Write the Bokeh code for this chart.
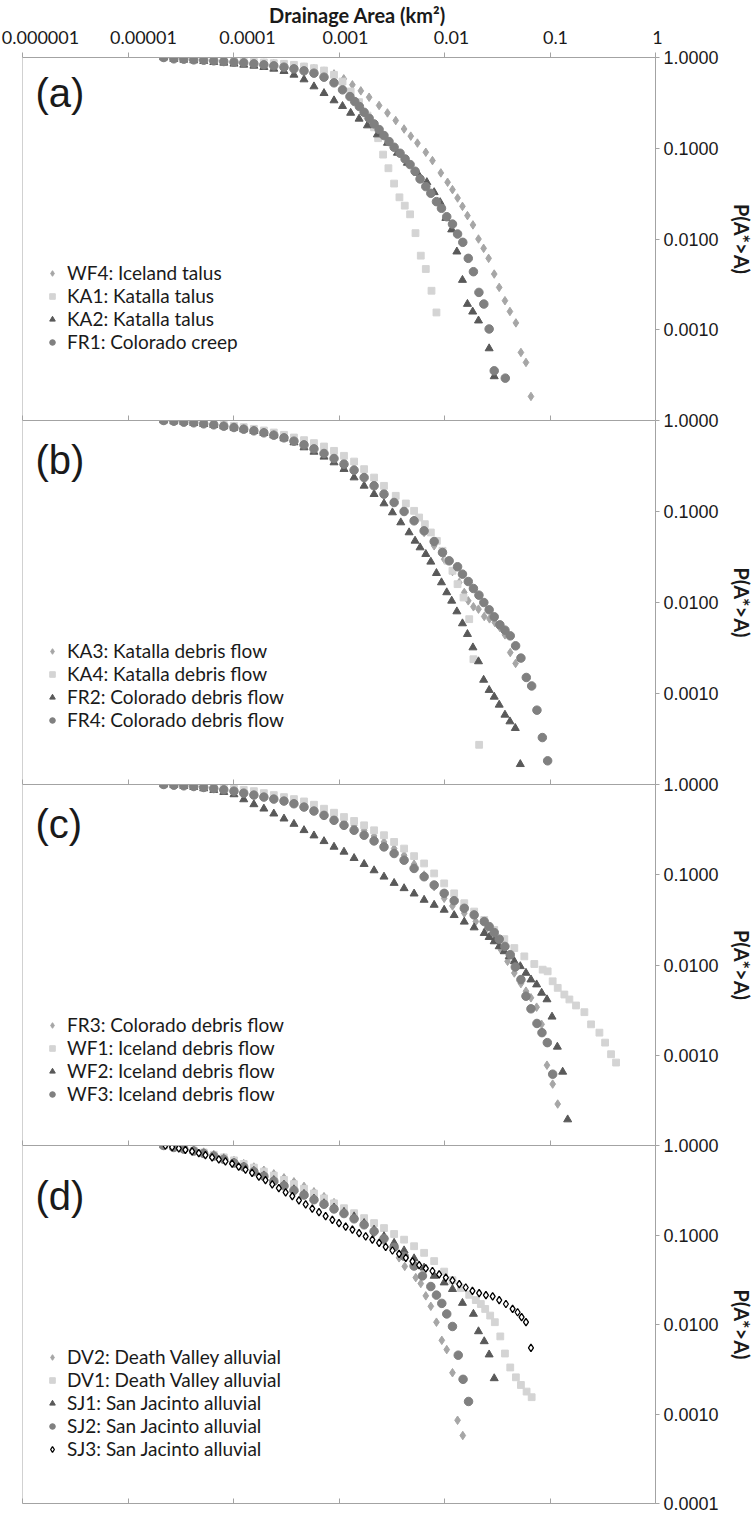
import math
from bokeh.plotting import figure
from bokeh.models import (Range1d, LogAxis, FixedTicker, PrintfTickFormatter, Label,
                          Legend, LegendItem, Span)
from bokeh.layouts import column
from bokeh.embed import file_html
from bokeh.resources import INLINE
from bokeh.core.properties import value

# ---------------- axis text ----------------
X_TICKS = [1e-6, 1e-5, 1e-4, 1e-3, 1e-2, 1e-1, 1.0]
X_TICK_LABELS = ["0.000001", "0.00001", "0.0001", "0.001", "0.01", "0.1", "1"]
Y_TICKS_UPPER = [1e-3, 1e-2, 1e-1, 1.0]
Y_TICKS_LOWER = [1e-4, 1e-3, 1e-2, 1e-1, 1.0]
X_TITLE = "Drainage Area (km\u00b2)"
Y_TITLE = "P(A*>A)"
PANEL_TAGS = ["(a)", "(b)", "(c)", "(d)"]

# ---------------- panel (a) ----------------
WF4_A = [2.18e-5, 2.72e-5, 3.38e-5, 4.20e-5, 5.22e-5, 6.50e-5, 8.09e-5, 1.01e-4, 1.25e-4, 1.56e-4,
         1.94e-4, 2.41e-4, 3.01e-4, 3.74e-4, 4.66e-4, 5.79e-4, 7.21e-4, 8.97e-4,
         1.11e-3, 1.34e-3, 1.61e-3, 1.93e-3, 2.40e-3, 2.88e-3, 3.45e-3, 4.14e-3, 4.79e-3, 5.54e-3,
         6.65e-3, 7.69e-3, 9.23e-3, 1.07e-2, 1.19e-2, 1.33e-2, 1.48e-2, 1.65e-2, 1.86e-2, 2.10e-2,
         2.35e-2, 2.62e-2, 2.96e-2, 3.30e-2, 3.74e-2, 4.17e-2, 4.75e-2, 5.30e-2, 5.92e-2, 6.60e-2]
WF4_P = [1.0, 0.983, 0.975, 0.967, 0.950, 0.942, 0.927, 0.911, 0.896, 0.881,
         0.866, 0.852, 0.830, 0.809, 0.782, 0.750, 0.707, 0.660,
         0.582, 0.500, 0.429, 0.365, 0.296, 0.245, 0.202, 0.163, 0.136, 0.114,
         0.0903, 0.0731, 0.0535, 0.0422, 0.0350, 0.0283, 0.0229, 0.0181, 0.0143, 0.0100,
         0.00789, 0.00612, 0.00411, 0.00293, 0.00209, 0.00159, 0.00119, 0.000562, 0.000436, 0.000184]

KA1_A = [2.18e-5, 2.72e-5, 3.38e-5, 4.20e-5, 5.22e-5, 6.50e-5, 8.09e-5, 1.01e-4, 1.25e-4, 1.56e-4,
         1.94e-4, 2.41e-4, 3.01e-4, 3.74e-4, 4.66e-4, 5.79e-4, 7.21e-4, 8.97e-4,
         1.08e-3, 1.29e-3, 1.55e-3, 1.86e-3, 2.15e-3, 2.35e-3, 2.62e-3, 2.94e-3, 3.33e-3, 3.74e-3,
         4.20e-3, 4.72e-3, 5.31e-3, 5.96e-3, 6.65e-3, 7.53e-3, 8.39e-3]
KA1_P = [1.0, 0.992, 0.983, 0.975, 0.967, 0.950, 0.942, 0.927, 0.911, 0.896,
         0.881, 0.866, 0.852, 0.830, 0.796, 0.763, 0.719, 0.644,
         0.543, 0.422, 0.322, 0.229, 0.170, 0.129, 0.0851, 0.0602, 0.0408, 0.0288,
         0.0233, 0.0187, 0.0116, 0.00655, 0.00467, 0.00269, 0.00155]

KA2_A = [2.18e-5, 2.72e-5, 3.38e-5, 4.20e-5, 5.22e-5, 6.50e-5, 8.09e-5, 1.01e-4, 1.25e-4, 1.56e-4,
         1.94e-4, 2.41e-4, 3.01e-4, 3.74e-4, 4.66e-4, 5.79e-4, 7.21e-4, 8.97e-4,
         1.08e-3, 1.29e-3, 1.55e-3, 1.86e-3, 2.31e-3, 2.88e-3, 3.58e-3, 4.45e-3, 5.54e-3, 6.80e-3,
         7.98e-3, 9.09e-3, 1.03e-2, 1.17e-2, 1.31e-2, 1.48e-2, 1.65e-2, 1.85e-2, 2.10e-2, 2.65e-2, 2.96e-2]
KA2_P = [1.0, 0.959, 0.942, 0.927, 0.911, 0.888, 0.873, 0.852, 0.830, 0.809,
         0.782, 0.750, 0.707, 0.644, 0.572, 0.479, 0.404, 0.336,
         0.291, 0.245, 0.211, 0.178, 0.1416, 0.1145, 0.0889, 0.0689, 0.0535, 0.0422,
         0.0327, 0.0254, 0.0170, 0.0127, 0.00725, 0.00353, 0.00192, 0.00158, 0.00126, 0.000622, 0.000306]

FR1_A = [2.18e-5, 2.72e-5, 3.38e-5, 4.20e-5, 5.22e-5, 6.50e-5, 8.09e-5, 1.01e-4, 1.25e-4, 1.56e-4,
         1.94e-4, 2.41e-4, 3.01e-4, 3.74e-4, 4.66e-4, 5.79e-4, 7.21e-4, 8.97e-4,
         1.08e-3, 1.27e-3, 1.41e-3, 1.56e-3, 1.73e-3, 1.93e-3, 2.15e-3, 2.40e-3, 2.67e-3, 2.98e-3,
         3.33e-3, 3.79e-3, 4.23e-3, 4.72e-3, 5.26e-3, 5.87e-3, 6.65e-3, 7.42e-3, 8.39e-3, 9.36e-3,
         1.05e-2, 1.19e-2, 1.33e-2, 1.49e-2, 1.68e-2, 1.88e-2, 2.12e-2, 2.36e-2, 2.65e-2, 2.96e-2, 3.77e-2]
FR1_P = [1.0, 0.967, 0.959, 0.942, 0.934, 0.919, 0.903, 0.888, 0.873, 0.852,
         0.830, 0.809, 0.782, 0.750, 0.713, 0.672, 0.607, 0.526,
         0.440, 0.371, 0.327, 0.288, 0.249, 0.214, 0.1855, 0.1607, 0.138, 0.1185,
         0.1026, 0.0881, 0.0762, 0.0661, 0.0558, 0.0459, 0.0378, 0.0319, 0.0258, 0.0218,
         0.0176, 0.0146, 0.01135, 0.00919, 0.00612, 0.00436, 0.00258, 0.00192, 0.00102, 0.000353, 0.000293]

# ---------------- panel (b) ----------------
KA3_A = [2.18e-5, 2.72e-5, 3.38e-5, 4.20e-5, 5.22e-5, 6.50e-5, 8.09e-5, 1.01e-4, 1.25e-4, 1.56e-4,
         1.94e-4, 2.41e-4, 3.01e-4, 3.74e-4, 4.66e-4, 5.79e-4, 7.21e-4, 8.97e-4, 1.115e-3, 1.39e-3,
         1.73e-3, 2.15e-3, 2.67e-3,
         3.33e-3, 4.14e-3, 5.15e-3, 6.41e-3, 7.98e-3, 9.93e-3, 1.19e-2, 1.378e-2, 1.54e-2, 1.68e-2,
         1.88e-2, 2.10e-2, 2.38e-2, 2.67e-2, 3.00e-2, 3.35e-2, 3.74e-2, 4.20e-2, 4.72e-2]
KA3_P = [1.0, 0.983, 0.967, 0.951, 0.927, 0.904, 0.881, 0.852, 0.824, 0.790,
         0.751, 0.708, 0.661, 0.613, 0.564, 0.514, 0.464, 0.409, 0.354, 0.2995,
         0.2466, 0.2031, 0.1659,
         0.1332, 0.1061, 0.0803, 0.0588, 0.0420, 0.0299, 0.0219, 0.0166, 0.0129, 0.01043,
         0.00897, 0.00845, 0.00702, 0.00661, 0.00603, 0.00531, 0.00441, 0.00282, 0.00214]

KA4_A = [2.18e-5, 2.72e-5, 3.38e-5, 4.20e-5, 5.22e-5, 6.50e-5, 8.09e-5, 1.01e-4, 1.25e-4, 1.56e-4,
         1.94e-4, 2.41e-4, 3.01e-4, 3.74e-4, 4.66e-4, 5.79e-4, 7.21e-4, 8.97e-4, 1.115e-3, 1.39e-3,
         1.73e-3, 2.15e-3, 2.67e-3,
         3.45e-3, 4.30e-3, 5.15e-3, 5.75e-3, 6.51e-3, 7.42e-3, 8.46e-3, 9.57e-3, 1.07e-2, 1.19e-2,
         1.33e-2, 1.515e-2, 1.715e-2, 1.88e-2, 2.13e-2]
KA4_P = [1.0, 0.992, 0.975, 0.959, 0.943, 0.919, 0.896, 0.874, 0.845, 0.810,
         0.777, 0.738, 0.696, 0.650, 0.608, 0.564, 0.518, 0.464, 0.409, 0.354,
         0.292, 0.236, 0.1914,
         0.1487, 0.1225, 0.1017, 0.0859, 0.0726, 0.0588, 0.0476, 0.0370, 0.0287, 0.0223,
         0.0159, 0.01135, 0.00656, 0.00238, 0.000273]

FR2_A = [2.18e-5, 2.72e-5, 3.38e-5, 4.20e-5, 5.22e-5, 6.50e-5, 8.09e-5, 1.01e-4, 1.25e-4, 1.56e-4,
         1.94e-4, 2.41e-4, 3.01e-4, 3.74e-4, 4.66e-4, 5.79e-4, 7.21e-4, 8.97e-4, 1.115e-3, 1.39e-3,
         1.73e-3, 2.15e-3, 2.67e-3,
         3.21e-3, 3.85e-3, 4.62e-3, 5.26e-3, 5.87e-3, 6.65e-3, 7.42e-3, 8.39e-3, 9.36e-3, 1.05e-2,
         1.17e-2, 1.31e-2, 1.48e-2, 1.65e-2, 1.86e-2, 2.10e-2, 2.35e-2, 2.65e-2, 2.96e-2, 3.30e-2,
         3.74e-2, 4.17e-2, 4.69e-2, 5.23e-2]
FR2_P = [1.0, 0.975, 0.959, 0.935, 0.911, 0.889, 0.859, 0.831, 0.796, 0.764,
         0.726, 0.684, 0.634, 0.573, 0.505, 0.452, 0.399, 0.3455, 0.292, 0.236,
         0.1914, 0.155, 0.1224,
         0.0975, 0.0757, 0.0588, 0.0476, 0.0402, 0.0340, 0.0280, 0.0210, 0.0166, 0.0129,
         0.01043, 0.00796, 0.00588, 0.00449, 0.00320, 0.00225, 0.00141, 0.00109, 0.000919, 0.000751,
         0.000583, 0.000492, 0.000416, 0.000167]

FR4_A = [2.18e-5, 2.72e-5, 3.38e-5, 4.20e-5, 5.22e-5, 6.50e-5, 8.09e-5, 1.01e-4, 1.25e-4, 1.56e-4,
         1.94e-4, 2.41e-4, 3.01e-4, 3.74e-4, 4.66e-4, 5.79e-4, 7.21e-4, 8.97e-4, 1.115e-3, 1.39e-3,
         1.73e-3, 2.15e-3, 2.67e-3,
         3.33e-3, 4.14e-3, 5.15e-3, 6.41e-3, 7.98e-3, 9.57e-3, 1.107e-2, 1.33e-2, 1.48e-2, 1.68e-2,
         1.88e-2, 2.12e-2, 2.36e-2, 2.65e-2, 2.96e-2, 3.35e-2, 3.74e-2, 4.20e-2, 4.72e-2, 5.30e-2,
         5.96e-2, 6.70e-2, 7.52e-2, 8.46e-2, 9.50e-2]
FR4_P = [1.0, 0.983, 0.959, 0.943, 0.919, 0.896, 0.866, 0.838, 0.803, 0.770,
         0.732, 0.690, 0.645, 0.593, 0.540, 0.488, 0.434, 0.382, 0.331, 0.2845,
         0.236, 0.1914, 0.155,
         0.1256, 0.100, 0.0790, 0.0613, 0.0468, 0.0354, 0.0287, 0.0247, 0.0205, 0.0170,
         0.01425, 0.01204, 0.0100, 0.00831, 0.00696, 0.00568, 0.00497, 0.00430, 0.00334, 0.00245,
         0.00150, 0.00121, 0.000656, 0.000328, 0.000182]

# ---------------- panel (c) ----------------
FR3_A = [2.18e-5, 2.72e-5, 3.38e-5, 4.20e-5, 5.22e-5, 6.50e-5, 8.09e-5, 1.01e-4, 1.25e-4, 1.56e-4,
         1.94e-4, 2.41e-4, 3.01e-4, 3.74e-4, 4.66e-4, 5.79e-4, 7.21e-4, 8.97e-4, 1.115e-3, 1.39e-3,
         1.73e-3, 2.15e-3, 2.67e-3, 3.33e-3, 4.14e-3, 5.15e-3, 6.41e-3, 7.98e-3, 9.93e-3,
         1.19e-2, 1.54e-2, 1.98e-2, 2.47e-2, 2.96e-2, 3.43e-2, 3.96e-2, 4.59e-2, 5.30e-2, 5.92e-2,
         6.60e-2, 7.47e-2, 8.33e-2, 9.36e-2, 0.106, 0.1183]
FR3_P = [1.0, 0.9916, 0.975, 0.959, 0.935, 0.911, 0.888, 0.859, 0.830, 0.796,
         0.763, 0.725, 0.689, 0.644, 0.602, 0.548, 0.495, 0.444, 0.394, 0.350,
         0.311, 0.269, 0.231, 0.195, 0.1648, 0.131, 0.0992, 0.0737, 0.0548,
         0.0451, 0.0375, 0.0303, 0.0245, 0.0190, 0.01476, 0.01098, 0.00816, 0.00622, 0.00513,
         0.00433, 0.00341, 0.0022, 0.000776, 0.000479, 0.000288]

WF1_A = [2.18e-5, 2.72e-5, 3.38e-5, 4.20e-5, 5.22e-5, 6.50e-5, 8.09e-5, 1.01e-4, 1.25e-4, 1.56e-4,
         1.94e-4, 2.41e-4, 3.01e-4, 3.74e-4, 4.66e-4, 5.79e-4, 7.21e-4, 8.97e-4, 1.115e-3, 1.39e-3,
         1.73e-3, 2.15e-3, 2.67e-3, 3.33e-3, 4.14e-3, 5.15e-3, 6.41e-3, 7.98e-3, 9.93e-3, 1.235e-2,
         1.54e-2, 1.91e-2, 2.38e-2, 2.96e-2, 3.69e-2, 4.59e-2, 5.71e-2, 7.10e-2,
         8.52e-2, 9.50e-2, 0.106, 0.1183, 0.1368, 0.1527, 0.1765, 0.2118, 0.245, 0.294, 0.333, 0.379, 0.423]
WF1_P = [1.0, 0.995, 0.9916, 0.975, 0.959, 0.943, 0.919, 0.896, 0.873, 0.844,
         0.802, 0.763, 0.725, 0.689, 0.649, 0.597, 0.539, 0.487, 0.436, 0.394,
         0.353, 0.311, 0.274, 0.231, 0.195, 0.1607, 0.1334, 0.1034, 0.0802, 0.0622,
         0.0483, 0.0391, 0.0316, 0.0245, 0.01935, 0.0154, 0.01246, 0.01026,
         0.00888, 0.00851, 0.0066, 0.00558, 0.00471, 0.00415, 0.00356, 0.00300, 0.0022, 0.00178, 0.00138, 0.001026, 0.00083]

WF2_A = [2.18e-5, 2.72e-5, 3.38e-5, 4.20e-5, 5.22e-5, 6.50e-5, 8.09e-5,
         1.01e-4, 1.25e-4, 1.56e-4, 1.94e-4, 2.41e-4, 3.01e-4, 3.74e-4, 4.66e-4, 5.79e-4, 7.21e-4,
         8.97e-4, 1.115e-3, 1.39e-3, 1.73e-3, 2.15e-3, 2.67e-3, 3.33e-3, 4.14e-3, 5.15e-3, 6.41e-3,
         7.98e-3, 9.93e-3, 1.235e-2, 1.54e-2, 1.91e-2, 2.38e-2,
         2.65e-2, 2.96e-2, 3.30e-2, 3.69e-2, 4.11e-2, 4.59e-2, 5.23e-2, 5.92e-2, 6.60e-2, 7.47e-2,
         8.33e-2, 9.36e-2, 0.1045, 0.1174, 0.1319, 0.1471]
WF2_P = [1.0, 0.983, 0.959, 0.935, 0.903, 0.866, 0.823,
         0.776, 0.683, 0.602, 0.539, 0.475, 0.418, 0.365, 0.311, 0.2716, 0.235,
         0.2036, 0.1794, 0.1527, 0.1311, 0.1116, 0.0950, 0.0809, 0.0707, 0.0617, 0.0526,
         0.0463, 0.0408, 0.0356, 0.0301, 0.0260, 0.02254,
         0.02036, 0.01824, 0.01607, 0.01415, 0.01246, 0.01098, 0.00967, 0.00816, 0.00689, 0.00607,
         0.00491, 0.00415, 0.00267, 0.00124, 0.000655, 0.000194]

WF3_A = [2.18e-5, 2.72e-5, 3.38e-5, 4.20e-5, 5.22e-5, 6.50e-5, 8.09e-5, 1.01e-4, 1.25e-4, 1.56e-4,
         1.94e-4, 2.41e-4, 3.01e-4, 3.74e-4, 4.66e-4, 5.79e-4, 7.21e-4, 8.97e-4, 1.115e-3, 1.39e-3,
         1.73e-3, 2.15e-3, 2.67e-3, 3.33e-3, 4.14e-3, 5.15e-3, 6.41e-3, 7.98e-3, 9.93e-3, 1.235e-2,
         1.54e-2, 1.91e-2, 2.38e-2,
         2.65e-2, 2.96e-2, 3.30e-2, 3.74e-2, 4.20e-2, 4.69e-2, 5.30e-2, 5.92e-2, 6.60e-2, 7.52e-2,
         8.39e-2, 9.43e-2, 0.106]
WF3_P = [1.0, 0.983, 0.967, 0.950, 0.927, 0.903, 0.873, 0.844, 0.802, 0.763,
         0.725, 0.689, 0.655, 0.612, 0.562, 0.508, 0.455, 0.401, 0.353, 0.311,
         0.274, 0.237, 0.2036, 0.172, 0.145, 0.1175, 0.0950, 0.0769, 0.0622, 0.0516,
         0.0425, 0.0359, 0.0303,
         0.0267, 0.0229, 0.01935, 0.01607, 0.0130, 0.0095, 0.00689, 0.00451, 0.00327, 0.00225,
         0.00178, 0.00138, 0.000617]

# ---------------- panel (d) ----------------
DV2_A = [2.18e-5, 2.72e-5, 3.38e-5, 4.20e-5, 5.22e-5, 6.50e-5, 8.09e-5, 1.01e-4, 1.25e-4, 1.56e-4,
         1.94e-4, 2.41e-4, 3.01e-4, 3.74e-4, 4.66e-4, 5.79e-4, 7.21e-4, 8.97e-4,
         1.115e-3, 1.39e-3, 1.73e-3, 2.15e-3, 2.67e-3, 3.21e-3, 3.71e-3, 4.20e-3, 5.34e-3, 5.96e-3,
         6.65e-3, 7.42e-3, 8.39e-3, 9.43e-3, 1.05e-2, 1.19e-2, 1.33e-2, 1.49e-2]
DV2_P = [1.0, 0.983, 0.934, 0.888, 0.844, 0.795, 0.737, 0.682, 0.627, 0.575,
         0.529, 0.482, 0.435, 0.393, 0.349, 0.304, 0.268, 0.230,
         0.194, 0.161, 0.130, 0.1052, 0.0851, 0.0688, 0.0556, 0.0446, 0.0334, 0.0287,
         0.0209, 0.01596, 0.01061, 0.00665, 0.00524, 0.00289, 0.000851, 0.000575]

DV1_A = [2.18e-5, 2.72e-5, 3.38e-5, 4.20e-5, 5.22e-5, 6.50e-5, 8.09e-5, 1.01e-4, 1.25e-4, 1.56e-4,
         1.94e-4, 2.41e-4, 3.01e-4, 3.74e-4, 4.66e-4, 5.79e-4, 7.21e-4, 8.97e-4, 1.115e-3, 1.39e-3,
         1.73e-3, 2.15e-3, 2.67e-3,
         3.33e-3, 4.14e-3, 5.15e-3, 6.41e-3, 7.98e-3, 9.93e-3, 1.19e-2, 1.43e-2, 1.715e-2, 1.98e-2,
         2.21e-2, 2.43e-2, 2.71e-2, 3.00e-2, 3.38e-2, 3.74e-2, 4.20e-2, 4.75e-2, 5.30e-2, 6.00e-2, 6.70e-2]
DV1_P = [1.0, 0.967, 0.927, 0.880, 0.837, 0.788, 0.737, 0.682, 0.621, 0.566,
         0.511, 0.462, 0.413, 0.370, 0.329, 0.2917, 0.2568, 0.226, 0.1990, 0.1752,
         0.1543, 0.1358, 0.1195,
         0.1026, 0.0887, 0.0749, 0.0632, 0.0511, 0.0390, 0.0312, 0.02546, 0.02148, 0.01875,
         0.01694, 0.01491, 0.01258, 0.01061, 0.00736, 0.00474, 0.00331, 0.00257, 0.00211, 0.00178, 0.00154]

SJ1_A = [2.18e-5, 2.72e-5, 3.38e-5, 4.20e-5, 5.22e-5, 6.50e-5, 8.09e-5, 1.01e-4, 1.25e-4, 1.56e-4,
         1.94e-4, 2.41e-4, 3.01e-4, 3.74e-4, 4.66e-4, 5.79e-4, 7.21e-4, 8.97e-4, 1.115e-3, 1.39e-3,
         1.73e-3, 2.15e-3, 2.67e-3, 3.33e-3, 4.14e-3, 5.15e-3, 6.41e-3, 7.98e-3, 9.93e-3, 1.19e-2,
         1.48e-2, 1.88e-2, 2.10e-2, 2.38e-2, 2.65e-2, 2.96e-2]
SJ1_P = [1.0, 0.950, 0.911, 0.866, 0.815, 0.762, 0.706, 0.643, 0.580, 0.520,
         0.462, 0.410, 0.364, 0.323, 0.287, 0.2545, 0.226, 0.2024, 0.1812, 0.161,
         0.1358, 0.1146, 0.0966, 0.0815, 0.0671, 0.0547, 0.0431, 0.0349, 0.0294, 0.0248,
         0.01738, 0.01312, 0.00837, 0.00648, 0.00461, 0.0025]

SJ2_A = [2.18e-5, 2.72e-5, 3.38e-5, 4.20e-5, 5.22e-5, 6.50e-5, 8.09e-5, 1.01e-4, 1.25e-4, 1.56e-4,
         1.94e-4, 2.41e-4, 3.01e-4, 3.74e-4, 4.66e-4, 5.79e-4, 7.21e-4, 8.97e-4, 1.115e-3, 1.39e-3,
         1.73e-3, 2.15e-3, 2.67e-3, 3.33e-3, 4.14e-3, 5.15e-3,
         6.18e-3, 7.42e-3, 8.39e-3, 9.43e-3, 1.05e-2, 1.19e-2, 1.35e-2, 1.50e-2, 1.69e-2]
SJ2_P = [1.0, 0.950, 0.911, 0.866, 0.815, 0.762, 0.700, 0.637, 0.575, 0.511,
         0.454, 0.3995, 0.3546, 0.315, 0.2796, 0.248, 0.2204, 0.1956, 0.1737, 0.1517,
         0.130, 0.1098, 0.0911, 0.0730, 0.0580, 0.0450,
         0.0349, 0.02657, 0.0213, 0.01722, 0.01312, 0.0095, 0.00454, 0.00244, 0.00138]

SJ3_A = [2.26e-5, 2.62e-5, 3.03e-5, 3.50e-5, 4.05e-5, 4.69e-5, 5.42e-5, 6.27e-5, 7.26e-5, 8.39e-5,
         9.71e-5, 1.12e-4, 1.30e-4, 1.50e-4, 1.74e-4, 2.01e-4, 2.33e-4, 2.69e-4, 3.12e-4, 3.61e-4,
         4.17e-4, 4.83e-4, 5.58e-4, 6.46e-4, 7.47e-4, 8.65e-4, 1.00e-3, 1.157e-3, 1.34e-3, 1.55e-3,
         1.79e-3, 2.07e-3, 2.40e-3, 2.77e-3, 3.21e-3, 3.71e-3, 4.30e-3, 4.97e-3, 5.75e-3, 6.65e-3,
         7.69e-3, 8.90e-3, 1.03e-2, 1.19e-2, 1.38e-2, 1.59e-2, 1.84e-2, 2.13e-2, 2.47e-2, 2.86e-2,
         3.30e-2, 3.82e-2, 4.42e-2, 4.93e-2, 5.38e-2, 5.92e-2, 6.60e-2]
SJ3_P = [1.0, 0.958, 0.927, 0.895, 0.858, 0.822, 0.782, 0.737, 0.700, 0.665,
         0.627, 0.580, 0.538, 0.494, 0.450, 0.410, 0.367, 0.334, 0.299, 0.2725,
         0.244, 0.2204, 0.1973, 0.1797, 0.1623, 0.1478, 0.1358, 0.1237, 0.1146, 0.1052,
         0.0966, 0.0887, 0.0815, 0.0736, 0.0671, 0.0616, 0.0556, 0.0507, 0.0461, 0.0424,
         0.0396, 0.0364, 0.0334, 0.0312, 0.0282, 0.0259, 0.0238, 0.0224, 0.0213, 0.0206,
         0.01875, 0.01694, 0.01491, 0.0137, 0.01206, 0.01061, 0.00547]

PANELS = [
    [("WF4: Iceland talus", WF4_A, WF4_P, "diamond"),
     ("KA1: Katalla talus", KA1_A, KA1_P, "square"),
     ("KA2: Katalla talus", KA2_A, KA2_P, "triangle"),
     ("FR1: Colorado creep", FR1_A, FR1_P, "circle")],
    [("KA3: Katalla debris flow", KA3_A, KA3_P, "diamond"),
     ("KA4: Katalla debris flow", KA4_A, KA4_P, "square"),
     ("FR2: Colorado debris flow", FR2_A, FR2_P, "triangle"),
     ("FR4: Colorado debris flow", FR4_A, FR4_P, "circle")],
    [("FR3: Colorado debris flow", FR3_A, FR3_P, "diamond"),
     ("WF1: Iceland debris flow", WF1_A, WF1_P, "square"),
     ("WF2: Iceland debris flow", WF2_A, WF2_P, "triangle"),
     ("WF3: Iceland debris flow", WF3_A, WF3_P, "circle")],
    [("DV2: Death Valley alluvial", DV2_A, DV2_P, "diamond"),
     ("DV1: Death Valley alluvial", DV1_A, DV1_P, "square"),
     ("SJ1: San Jacinto alluvial", SJ1_A, SJ1_P, "triangle"),
     ("SJ2: San Jacinto alluvial", SJ2_A, SJ2_P, "circle"),
     ("SJ3: San Jacinto alluvial", SJ3_A, SJ3_P, "open")],
]

# ---------------- layout / styling ----------------
PAGE_W = 755
HEADER_H = 57
FRAME_LEFT, FW = 22, 633
FHS = [363, 364, 361, 358]
BOTTOM_PAD = 12
AXIS_GRAY = "#A3A3A3"
TEXT = "#1A1A1A"
STYLE = {
    "diamond": dict(marker="diamond", size=8.5, fill_color="#A6A6A6", line_color="#A6A6A6"),
    "square": dict(marker="square", size=6.8, fill_color="#D4D4D4", line_color="#D4D4D4"),
    "triangle": dict(marker="triangle", size=8, fill_color="#595959", line_color="#595959"),
    "circle": dict(marker="circle", size=8.5, fill_color="#808080", line_color="#808080"),
    "open": dict(marker="diamond", size=7.5, fill_color="white", line_color="black", line_width=1.3),
}
TAG_DROP = [35.5, 39, 39, 50.5]          # tag centre below panel top
LEGEND_LAST_ROW = [285, 300, 310, 304]   # last legend row centre below panel top
X_LABEL_SHIFT = [18, 15.5, 14, 6.5, 7, 5.5, 2]
X_LABEL_Y = HEADER_H - 37
X_TITLE_CX, X_TITLE_Y = 357, HEADER_H - 14


def make_header():
    dec_per_px = 6.0 / FW
    lo = 10 ** (-6 - FRAME_LEFT * dec_per_px)
    hi = 10 ** ((PAGE_W - FRAME_LEFT - FW) * dec_per_px)
    kw = dict(width=PAGE_W, height=HEADER_H, x_axis_type="log",
              x_range=Range1d(lo, hi), y_range=Range1d(0, HEADER_H),
              x_axis_location=None, y_axis_location=None, min_border=0,
              outline_line_color=None, output_backend="svg", toolbar_location=None)
    try:
        h = figure(frame_align=False, **kw)
    except Exception:
        h = figure(**kw)
    h.grid.visible = False
    h.text(x=X_TICKS, y=[X_LABEL_Y] * len(X_TICKS), text=X_TICK_LABELS, x_offset=X_LABEL_SHIFT,
           text_font=value("Lato"), text_font_size=value("18px"), text_color=TEXT,
           text_align="center", text_baseline="middle")
    h.add_layout(Label(x=X_TITLE_CX, y=X_TITLE_Y, x_units="screen", y_units="screen",
                       text=X_TITLE, text_font="Lato", text_font_style="bold",
                       text_font_size="20px", text_align="center", text_baseline="middle",
                       text_color=TEXT))
    return h


def tick_axis(tick_in=0, tick_out=0):
    return LogAxis(ticker=FixedTicker(ticks=X_TICKS), major_tick_in=tick_in, major_tick_out=tick_out,
                   minor_tick_in=0, minor_tick_out=0, major_label_text_font_size="1px",
                   major_label_text_alpha=0, major_label_standoff=0,
                   axis_line_color=AXIS_GRAY, major_tick_line_color=AXIS_GRAY)


def make_panel(i):
    last = i == 3
    FH = FHS[i]
    p = figure(frame_width=FW, frame_height=FH, x_axis_type="log", y_axis_type="log",
               x_range=Range1d(1e-6, 1), y_range=Range1d(1e-4, 1),
               x_axis_location=None, y_axis_location="right",
               min_border_left=FRAME_LEFT, min_border_right=PAGE_W - FRAME_LEFT - FW,
               min_border_top=8, min_border_bottom=BOTTOM_PAD if last else 0,
               output_backend="svg", toolbar_location=None, outline_line_color=None,
               border_fill_color=None, margin=(-8, 0, 0, 0))
    p.grid.visible = False

    ya = p.yaxis[0]
    ya.ticker = FixedTicker(ticks=Y_TICKS_LOWER if last else Y_TICKS_UPPER)
    ya.formatter = PrintfTickFormatter(format="%.4f")
    ya.major_tick_in = 0
    ya.major_tick_out = 4
    ya.minor_tick_in = 0
    ya.minor_tick_out = 0
    ya.axis_line_color = AXIS_GRAY
    ya.major_tick_line_color = AXIS_GRAY
    ya.major_label_standoff = 4
    ya.major_label_text_font = "Liberation Sans"
    ya.major_label_text_font_size = "18px"
    ya.major_label_text_color = TEXT
    ya.axis_label = Y_TITLE
    ya.axis_label_text_font = "Lato"
    ya.axis_label_text_font_style = "bold"
    ya.axis_label_text_font_size = "20px"
    ya.axis_label_text_color = TEXT
    ya.axis_label_standoff = 8

    p.add_layout(tick_axis(tick_out=5), "above")
    if last:
        p.add_layout(tick_axis(tick_in=5), "below")
    p.add_layout(Span(location=1e-6, dimension="height", line_color=AXIS_GRAY, line_width=1))

    items = []
    for name, xs, ys, kind in PANELS[i]:
        r = p.scatter(xs, ys, **STYLE[kind])
        items.append(LegendItem(label=value(name), renderers=[r]))
    p.add_layout(Legend(items=items, location=(23, FH - LEGEND_LAST_ROW[i] - 11),
                        orientation="vertical",
                        glyph_width=14, glyph_height=22, label_height=22, label_standoff=8,
                        spacing=0, padding=0, margin=0, border_line_color=None,
                        background_fill_alpha=0, label_text_font="Lato",
                        label_text_font_size="19px", label_text_color=TEXT))

    p.add_layout(Label(x=13, y=FH - TAG_DROP[i], x_units="screen", y_units="screen",
                       text=PANEL_TAGS[i], text_font="Liberation Sans", text_font_size="40px",
                       text_baseline="middle", text_align="left", text_color=TEXT))
    return p


layout = column(make_header(), *[make_panel(i) for i in range(4)], spacing=0)
open("out.html", "w").write(file_html(layout, INLINE))
